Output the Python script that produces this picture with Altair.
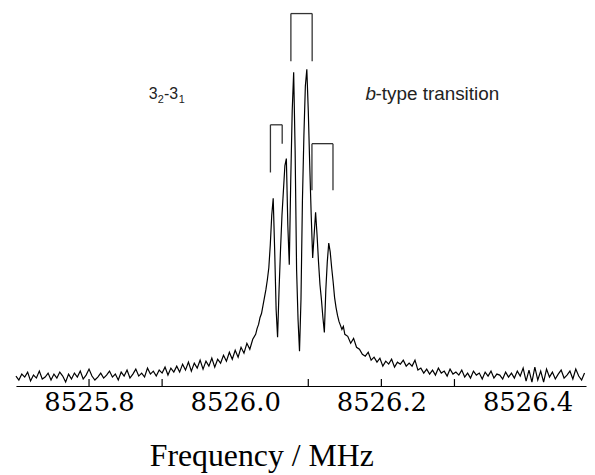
import altair as alt
import pandas as pd

# ---- spectrum intensities (arbitrary units) ----
left_start = 8525.700
left_step = 0.004
left_vals = [10, 6, 12, 9, 14, 5, 11, 8, 15, 7, 9, 13, 6, 12, 8, 14, 10, 4, 12, 7, 13, 9, 15, 7, 11,
             17, 10, 6,
             9, 13, 8, 11, 15, 9, 12, 6, 14, 10, 16, 8, 12, 17, 10, 13, 9, 18, 12, 15, 10, 16,
             13, 19, 11, 18, 14, 20,
             14, 22, 16, 24, 15, 23, 18, 26, 17, 25, 20, 28, 19, 27,
             23, 31, 25, 34, 27, 36, 29, 39, 33, 43, 37, 47, 52]

center_start = 8526.030
center_step = 0.002
center_vals = [58, 62, 69, 73, 81, 89, 97, 107, 119, 142, 172, 189, 137, 77, 49, 97, 137, 172, 197, 222,
               229, 162, 122, 207, 277, 316, 237, 117, 67, 35, 87, 187, 252, 302, 319, 277, 222, 172, 129, 152,
               175, 152, 125, 102, 87, 69, 54, 97, 125, 144, 135, 119, 105, 89, 79, 71, 65, 61, 57, 60, 52]

right_start = 8526.154
right_step = 0.004
right_vals = [50, 43, 48, 39, 37, 32,
              30, 34, 26, 29,
              24, 28, 20, 25, 22, 27, 19, 24, 22, 26, 20, 23, 20,
              26, 16,
              18, 13, 17, 12, 16, 11, 18, 13, 15, 10, 17, 12, 14,
              11, 16, 9, 13, 8, 15, 11, 13, 7, 14, 10, 15, 8, 12, 11, 7, 14, 9, 13, 8, 15, 10,
              18, 5, 16, 4, 19, 6, 15, 4, 17,
              9, 14, 7, 12, 16, 8, 11, 15, 7, 17, 10, 6, 13]

# ---- bracket markers over the hyperfine doublets ----
bracket_left = [8526.0482, 8526.0762, 8526.1050]
bracket_right = [8526.0643, 8526.1053, 8526.1338]
bracket_top = [263, 375, 244]
bracket_left_bottom = [215, 327, 197]
bracket_right_bottom = [244, 327, 197]

# ---- axis ----
label_values = [8525.8, 8526.0, 8526.2, 8526.4]
tick_values = [8525.8, 8525.9, 8526.1, 8526.2, 8526.3]

# ---- annotations ----
ann_text = ["3", "2", "-3", "1", "-type transition"]
ann_freq = [8525.8817, 8525.8939, 8525.9025, 8525.9228, 8526.1920]
ann_inten = [289, 285, 289, 285, 288]
ann_size = [16, 11, 16, 11, 19]
ital_text = ["b"]
ital_freq = [8526.1783]
ital_inten = [288]

freqs = ([round(left_start + i * left_step, 4) for i in range(len(left_vals))]
         + [round(center_start + i * center_step, 4) for i in range(len(center_vals))]
         + [round(right_start + i * right_step, 4) for i in range(len(right_vals))])
spec = pd.DataFrame({"freq": freqs, "inten": left_vals + center_vals + right_vals})

brk = pd.DataFrame({"fl": bracket_left, "fr": bracket_right, "top": bracket_top,
                    "lb": bracket_left_bottom, "rb": bracket_right_bottom})
ticks = pd.DataFrame({"tick": tick_values})
ann = pd.DataFrame({"t": ann_text, "f": ann_freq, "i": ann_inten, "s": ann_size})
ital = pd.DataFrame({"t": ital_text, "f": ital_freq, "i": ital_inten})

xscale = alt.Scale(domain=[8525.70, 8526.48], nice=False, zero=False)
yscale = alt.Scale(domain=[0, 379], nice=False, zero=False)

line = alt.Chart(spec).mark_line(color="black", strokeWidth=1.2).encode(
    x=alt.X("freq:Q", scale=xscale,
            axis=alt.Axis(values=label_values, format=".1f", ticks=False, tickSize=0,
                          labelFont="DejaVu Serif", labelFontSize=26, labelColor="black",
                          labelPadding=4, labelFlush=False, labelOverlap=False,
                          domainColor="black", domainWidth=1.2, grid=False,
                          title="Frequency / MHz", titleFont="Liberation Serif",
                          titleFontSize=32, titleFontWeight="normal", titleColor="black",
                          titleX=247, titleY=80, titleAlign="center",
                          titleBaseline="alphabetic")),
    y=alt.Y("inten:Q", scale=yscale, axis=None),
)

hor = alt.Chart(brk).mark_rule(color="#333333", strokeWidth=1.3).encode(
    x=alt.X("fl:Q", scale=xscale), x2="fr:Q",
    y=alt.Y("top:Q", scale=yscale, axis=None))
vl = alt.Chart(brk).mark_rule(color="#333333", strokeWidth=1.3).encode(
    x=alt.X("fl:Q", scale=xscale),
    y=alt.Y("top:Q", scale=yscale, axis=None), y2="lb:Q")
vr = alt.Chart(brk).mark_rule(color="#333333", strokeWidth=1.3).encode(
    x=alt.X("fr:Q", scale=xscale),
    y=alt.Y("top:Q", scale=yscale, axis=None), y2="rb:Q")

tk = alt.Chart(ticks).mark_rule(color="black", strokeWidth=1.2).encode(
    x=alt.X("tick:Q", scale=xscale),
    y=alt.value(379), y2=alt.value(372))

txt = alt.Chart(ann).mark_text(align="left", baseline="alphabetic", font="Liberation Sans",
                               color="#222222").encode(
    x=alt.X("f:Q", scale=xscale),
    y=alt.Y("i:Q", scale=yscale, axis=None),
    text="t:N", size=alt.Size("s:Q", scale=None, legend=None))
itxt = alt.Chart(ital).mark_text(align="left", baseline="alphabetic", font="Liberation Sans",
                                 fontStyle="italic", fontSize=19, color="#222222").encode(
    x=alt.X("f:Q", scale=xscale),
    y=alt.Y("i:Q", scale=yscale, axis=None),
    text="t:N")

chart = alt.layer(line, hor, vl, vr, tk, txt, itxt).properties(
    width=574, height=379,
    padding={"left": 5, "top": 0, "right": 0, "bottom": 0},
    background="white",
).configure_view(stroke=None)

chart.save("out.html", embed_options={"renderer": "svg", "actions": False})
